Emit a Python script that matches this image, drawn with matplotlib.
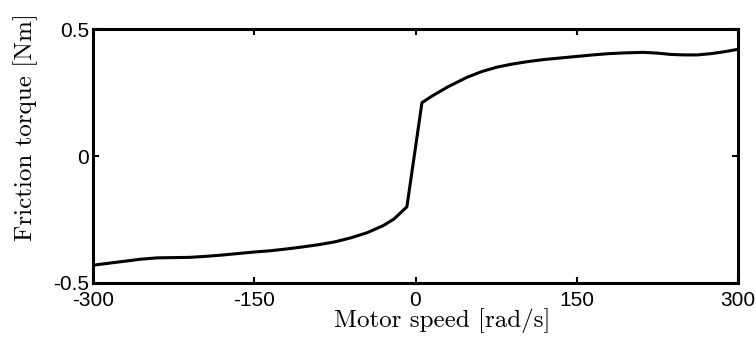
import numpy as np
import matplotlib
matplotlib.use('Agg')
import matplotlib.pyplot as plt

# friction curve
speed = [-300, -285, -270, -255, -240, -225, -210, -195, -180, -165, -150, -135,
         -120, -105, -90, -75, -60, -45, -30, -20, -8,
         6, 15, 30, 48, 62, 76, 90, 105, 120, 135, 150, 165, 180, 195, 212,
         225, 237, 250, 262, 275, 288, 300]
torque = [-0.43, -0.422, -0.414, -0.406, -0.401, -0.400, -0.399, -0.395, -0.390,
          -0.384, -0.378, -0.373, -0.366, -0.358, -0.349, -0.338, -0.322, -0.302,
          -0.274, -0.248, -0.20,
          0.21, 0.235, 0.272, 0.31, 0.333, 0.350, 0.362, 0.372, 0.380, 0.386,
          0.392, 0.398, 0.403, 0.406, 0.408, 0.405, 0.400, 0.398, 0.398, 0.403,
          0.411, 0.42]

xticks = [-300, -150, 0, 150, 300]
yticks = [-0.5, 0, 0.5]
yticklabels = ['-0.5', '0', '0.5']

fig = plt.figure(figsize=(7.56, 3.38), dpi=100)
ax = fig.add_axes([93/756, 55/338, 645/756, 254/338])

ax.plot(speed, torque, color='black', lw=2.2)

ax.set_xlim(-300, 300)
ax.set_ylim(-0.5, 0.5)
ax.set_xticks(xticks)
ax.set_xticklabels([str(t) for t in xticks])
ax.set_yticks(yticks)
ax.set_yticklabels(yticklabels)
ax.tick_params(direction='in', length=4, width=1.5, top=True, right=True,
               labelsize=15)
ax.tick_params(axis='x', pad=6)
ax.tick_params(axis='y', pad=3)
for lab in ax.get_xticklabels() + ax.get_yticklabels():
    lab.set_family('Liberation Sans')
for s in ax.spines.values():
    s.set_linewidth(2.2)

ax.set_xlabel('Motor speed [rad/s]', fontname='cmr10', fontsize=18)
ax.xaxis.set_label_coords(0.542, -0.1)
ax.set_ylabel('Friction torque [Nm]', fontname='cmr10', fontsize=18)
ax.yaxis.set_label_coords(-0.085, 0.614)

fig.savefig('out.png', dpi=100)
